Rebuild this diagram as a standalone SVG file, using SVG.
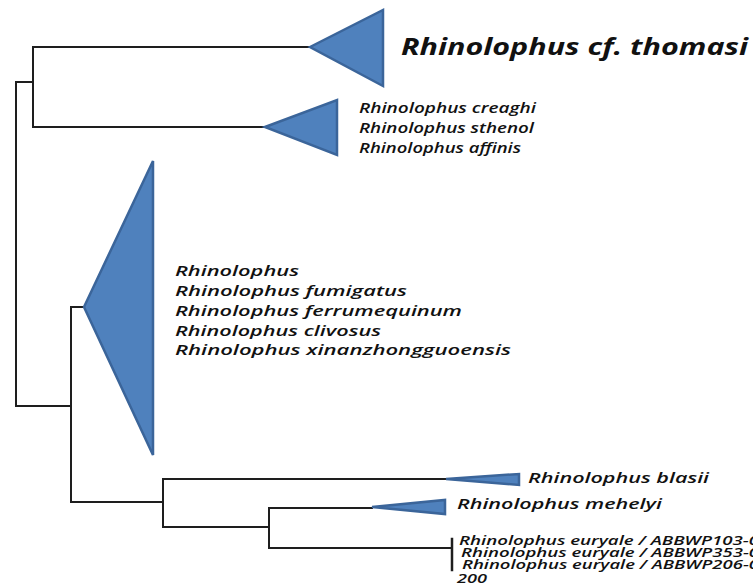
<svg xmlns="http://www.w3.org/2000/svg" width="753" height="586" viewBox="0 0 753 586">
<style>
.br{fill:none;stroke:#1e1e1e;stroke-width:2;stroke-linecap:square}
.tri{fill:#4F81BD;stroke:#3B659A;stroke-width:2.5;stroke-linejoin:miter}
.lb{font-family:"Open Sans","Noto Sans","Liberation Sans",sans-serif;font-style:italic;font-weight:600;fill:#111}
.big{font-weight:bold}
</style>
<rect width="753" height="586" fill="#fff"/>
<g id="connectors">
<path class="br" d="M16,406 V82 H33"/>
<path class="br" d="M33,47 V127"/>
<path class="br" d="M33,47 H310"/>
<path class="br" d="M33,127 H265"/>
<path class="br" d="M16,406 H71"/>
<path class="br" d="M71,307 V502"/>
<path class="br" d="M71,307 H84"/>
<path class="br" d="M71,502 H163"/>
<path class="br" d="M163,479 V527"/>
<path class="br" d="M163,479 H446"/>
<path class="br" d="M163,527 H269"/>
<path class="br" d="M269,508 V548"/>
<path class="br" d="M269,508 H372"/>
<path class="br" d="M269,548 H452"/>
<path class="br" d="M452,539 V570" style="stroke-width:2.5"/>
</g>
<g id="clade-thomasi">
<polygon class="tri" points="310,47 383,10 383,86"/>
<text class="lb big" x="401" y="55" font-size="24" textLength="347" lengthAdjust="spacingAndGlyphs">Rhinolophus cf. thomasi</text>
</g>
<g id="clade-creaghi">
<polygon class="tri" points="265,127 337,100 337,155"/>
<text class="lb" x="359" y="113" font-size="15" textLength="177" lengthAdjust="spacingAndGlyphs">Rhinolophus creaghi</text>
<text class="lb" x="359" y="133" font-size="15" textLength="175" lengthAdjust="spacingAndGlyphs">Rhinolophus sthenol</text>
<text class="lb" x="359" y="153" font-size="15" textLength="162" lengthAdjust="spacingAndGlyphs">Rhinolophus affinis</text>
</g>
<g id="clade-ferrumequinum">
<polygon class="tri" points="84,307 153,161 153,455"/>
<text class="lb" x="175" y="276" font-size="15" textLength="124" lengthAdjust="spacingAndGlyphs">Rhinolophus</text>
<text class="lb" x="175" y="296" font-size="15" textLength="232" lengthAdjust="spacingAndGlyphs">Rhinolophus fumigatus</text>
<text class="lb" x="175" y="316" font-size="15" textLength="287" lengthAdjust="spacingAndGlyphs">Rhinolophus ferrumequinum</text>
<text class="lb" x="175" y="336" font-size="15" textLength="206" lengthAdjust="spacingAndGlyphs">Rhinolophus clivosus</text>
<text class="lb" x="175" y="355" font-size="15" textLength="336" lengthAdjust="spacingAndGlyphs">Rhinolophus xinanzhongguoensis</text>
</g>
<g id="clade-blasii">
<polygon class="tri" points="446,479 519,474 519,485"/>
<text class="lb" x="528" y="483" font-size="15" textLength="181" lengthAdjust="spacingAndGlyphs">Rhinolophus blasii</text>
</g>
<g id="clade-mehelyi">
<polygon class="tri" points="372,507 445,500 445,514"/>
<text class="lb" x="457" y="509" font-size="15" textLength="205" lengthAdjust="spacingAndGlyphs">Rhinolophus mehelyi</text>
</g>
<g id="clade-euryale">
<text class="lb" x="459" y="545" font-size="12" textLength="300" lengthAdjust="spacingAndGlyphs">Rhinolophus euryale / ABBWP103-0</text>
<text class="lb" x="461" y="557" font-size="12" textLength="298" lengthAdjust="spacingAndGlyphs">Rhinolophus euryale / ABBWP353-0</text>
<text class="lb" x="462" y="569" font-size="12" textLength="297" lengthAdjust="spacingAndGlyphs">Rhinolophus euryale / ABBWP206-0</text>
<text class="lb" x="457" y="583" font-size="12" textLength="30" lengthAdjust="spacingAndGlyphs">200</text>
</g>
</svg>
